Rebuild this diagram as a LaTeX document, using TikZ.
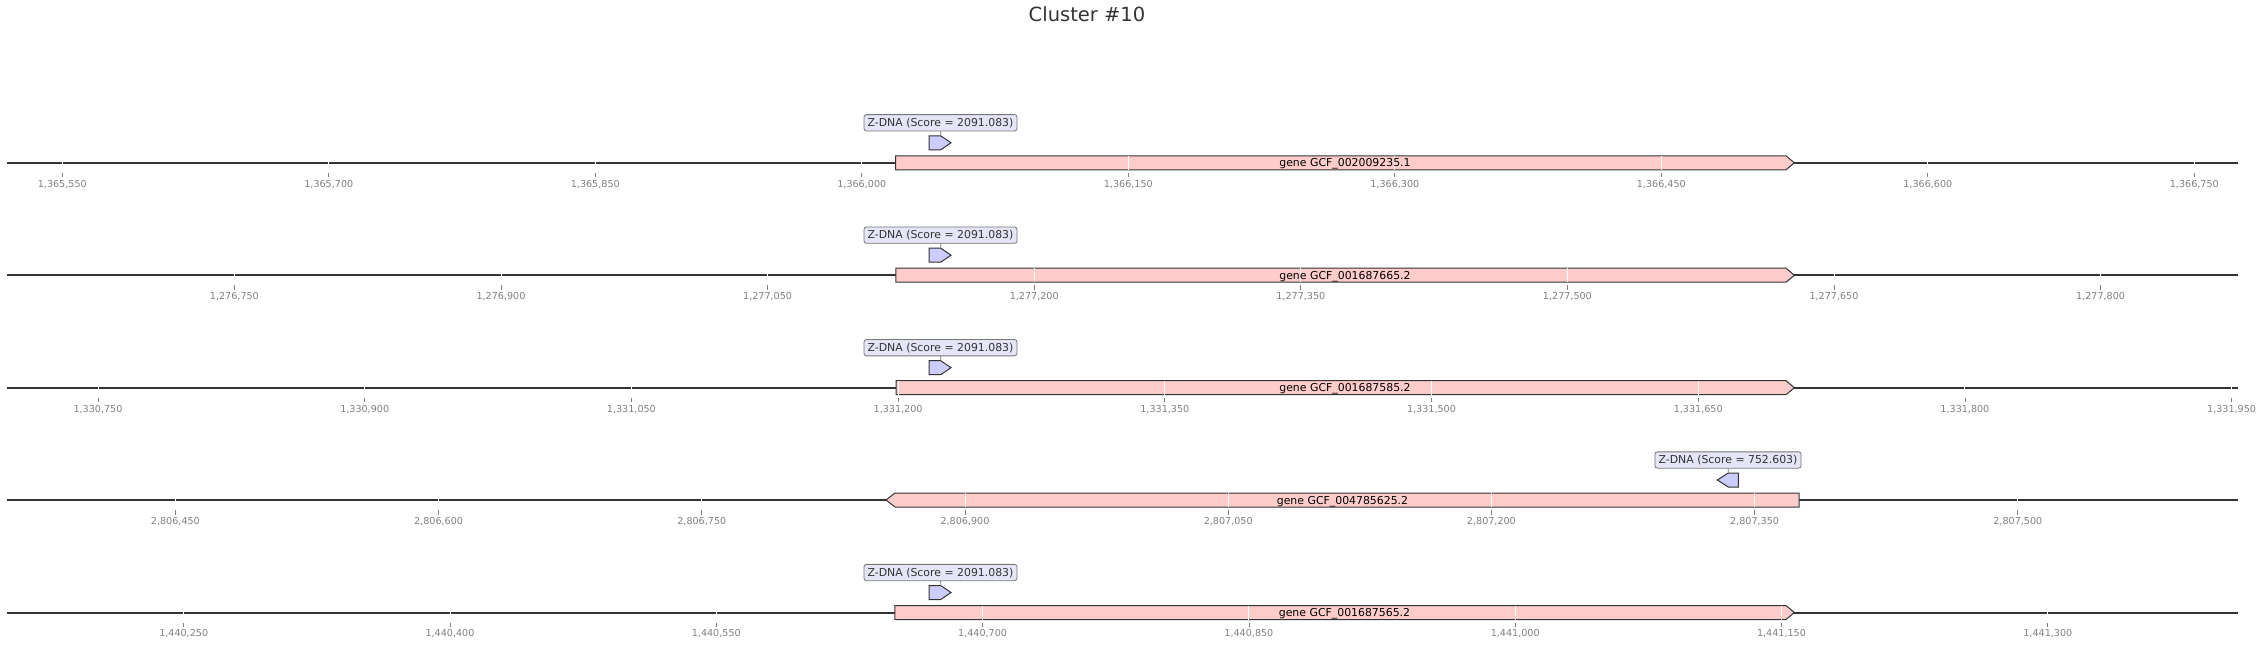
\documentclass[tikz,border=0pt]{standalone}
\usepackage{fontspec}
\setmainfont{DejaVu Sans}
\usepackage{xcolor}
\definecolor{trackGray}{RGB}{51, 51, 51}
\definecolor{tickGray}{RGB}{128, 128, 128}
\definecolor{genePink}{RGB}{255, 204, 204}
\definecolor{zdnaBlue}{RGB}{204, 204, 255}
\definecolor{labelLavender}{RGB}{229, 229, 248}
\definecolor{labelGray}{RGB}{120, 120, 120}

\begin{document}
\begin{tikzpicture}[x=1pt, y=-1pt]
            \tikzstyle{track} = [draw=trackGray, line width=2pt]
            \tikzstyle{gene} = [draw=trackGray, fill=genePink, line width=1pt]
            \tikzstyle{zdna} = [draw=trackGray, fill=zdnaBlue, line width=1pt]
            \tikzstyle{zlabel} = [draw=labelGray, fill=labelLavender, rounded corners=2.5pt, line width=0.8pt, inner xsep=3.6pt, inner ysep=0pt, minimum height=16.3pt, text height=7.9pt, text depth=0.5pt, text=trackGray, font=\fontsize{10.9}{12}\selectfont]
            \tikzstyle{genelabel} = [anchor=base, inner sep=0pt, text=black, font=\fontsize{10.9}{12}\selectfont]
            \tikzstyle{grid} = [white, line width=1pt]
            \tikzstyle{tick} = [tickGray, line width=0.8pt]
            \tikzstyle{ticklabel} = [anchor=base, inner sep=0pt, text=tickGray, font=\fontsize{9.6}{11}\selectfont]
            \tikzstyle{link} = [labelGray, line width=0.8pt]

            \useasboundingbox (0,0) rectangle (2263,647);
            \node[anchor=base, inner sep=0pt, text=trackGray, font=\fontsize{19.5}{23}\selectfont] (title) at (1087,22) {Cluster \#10};

            % row 1
            \draw[track] (7,162.8) -- (2238,162.8);
            \draw[gene] (895.7,155.8) -- (1786,155.8) -- (1794.3,162.8) -- (1786,169.8) -- (895.7,169.8) -- cycle;
            \foreach \x in {62.3,328.8,595.3,861.8,1128.3,1394.8,1661.3,1927.8,2194.3}
                \draw[grid] (\x,155.8) -- (\x,169.8);
            \foreach \x/\t in {62.3/{1,365,550}, 328.8/{1,365,700}, 595.3/{1,365,850}, 861.8/{1,366,000}, 1128.3/{1,366,150}, 1394.8/{1,366,300}, 1661.3/{1,366,450}, 1927.8/{1,366,600}, 2194.3/{1,366,750}} {
                \draw[tick] (\x,172.8) -- (\x,177.3);
                \node[ticklabel] at (\x,187.1) {\t};
            }
            \node[genelabel] (gene1) at (1345,166.8) {gene GCF\_002009235.1};
            \draw[zdna] (929,135.8) -- (940.7,135.8) -- (951,142.8) -- (940.7,149.8) -- (929,149.8) -- cycle;
            \coordinate (zdna1) at (940.7,135.8);
            \node[zlabel] (zlab1) at (940.5,122.8) {Z-DNA (Score = 2091.083)};
            \draw[link] (zlab1) -- (zdna1);

            % row 2
            \draw[track] (7,275.2) -- (2238,275.2);
            \draw[gene] (895.8,268.2) -- (1786,268.2) -- (1794.3,275.2) -- (1786,282.2) -- (895.8,282.2) -- cycle;
            \foreach \x in {234.4,501.0,767.6,1034.2,1300.8,1567.4,1834.0,2100.6}
                \draw[grid] (\x,268.2) -- (\x,282.2);
            \foreach \x/\t in {234.4/{1,276,750}, 501.0/{1,276,900}, 767.6/{1,277,050}, 1034.2/{1,277,200}, 1300.8/{1,277,350}, 1567.4/{1,277,500}, 1834.0/{1,277,650}, 2100.6/{1,277,800}} {
                \draw[tick] (\x,285.2) -- (\x,289.7);
                \node[ticklabel] at (\x,299.5) {\t};
            }
            \node[genelabel] (gene2) at (1345,279.2) {gene GCF\_001687665.2};
            \draw[zdna] (929,248.2) -- (940.7,248.2) -- (951,255.2) -- (940.7,262.2) -- (929,262.2) -- cycle;
            \coordinate (zdna2) at (940.7,248.2);
            \node[zlabel] (zlab2) at (940.5,235.2) {Z-DNA (Score = 2091.083)};
            \draw[link] (zlab2) -- (zdna2);

            % row 3
            \draw[track] (7,387.7) -- (2238,387.7);
            \draw[gene] (896,380.7) -- (1786,380.7) -- (1794.3,387.7) -- (1786,394.7) -- (896,394.7) -- cycle;
            \foreach \x in {98,364.7,631.4,898.1,1164.8,1431.5,1698.2,1964.9,2231.6}
                \draw[grid] (\x,380.7) -- (\x,394.7);
            \foreach \x/\t in {98/{1,330,750}, 364.7/{1,330,900}, 631.4/{1,331,050}, 898.1/{1,331,200}, 1164.8/{1,331,350}, 1431.5/{1,331,500}, 1698.2/{1,331,650}, 1964.9/{1,331,800}, 2231.6/{1,331,950}} {
                \draw[tick] (\x,397.7) -- (\x,402.2);
                \node[ticklabel] at (\x,412) {\t};
            }
            \node[genelabel] (gene3) at (1345,391.7) {gene GCF\_001687585.2};
            \draw[zdna] (929,360.7) -- (940.7,360.7) -- (951,367.7) -- (940.7,374.7) -- (929,374.7) -- cycle;
            \coordinate (zdna3) at (940.7,360.7);
            \node[zlabel] (zlab3) at (940.5,347.7) {Z-DNA (Score = 2091.083)};
            \draw[link] (zlab3) -- (zdna3);

            % row 4
            \draw[track] (7,500) -- (2238,500);
            \draw[gene] (886,500) -- (895,493) -- (1799,493) -- (1799,507) -- (895,507) -- cycle;
            \foreach \x in {175.4,438.6,701.8,965,1228.2,1491.4,1754.6,2017.8}
                \draw[grid] (\x,493) -- (\x,507);
            \foreach \x/\t in {175.4/{2,806,450}, 438.6/{2,806,600}, 701.8/{2,806,750}, 965/{2,806,900}, 1228.2/{2,807,050}, 1491.4/{2,807,200}, 1754.6/{2,807,350}, 2017.8/{2,807,500}} {
                \draw[tick] (\x,510) -- (\x,514.5);
                \node[ticklabel] at (\x,524.3) {\t};
            }
            \node[genelabel] (gene4) at (1342.5,504) {gene GCF\_004785625.2};
            \draw[zdna] (1738.3,473) -- (1728.3,473) -- (1717.3,480) -- (1728.3,487) -- (1738.3,487) -- cycle;
            \coordinate (zdna4) at (1728.3,473);
            \node[zlabel] (zlab4) at (1728,460) {Z-DNA (Score = 752.603)};
            \draw[link] (zlab4) -- (zdna4);

            % row 5
            \draw[track] (7,612.5) -- (2238,612.5);
            \draw[gene] (894.8,605.5) -- (1786,605.5) -- (1794.3,612.5) -- (1786,619.5) -- (894.8,619.5) -- cycle;
            \foreach \x in {183.7,450,716.3,982.6,1248.9,1515.2,1781.5,2047.8}
                \draw[grid] (\x,605.5) -- (\x,619.5);
            \foreach \x/\t in {183.7/{1,440,250}, 450/{1,440,400}, 716.3/{1,440,550}, 982.6/{1,440,700}, 1248.9/{1,440,850}, 1515.2/{1,441,000}, 1781.5/{1,441,150}, 2047.8/{1,441,300}} {
                \draw[tick] (\x,622.5) -- (\x,627);
                \node[ticklabel] at (\x,636.8) {\t};
            }
            \node[genelabel] (gene5) at (1344.5,616.5) {gene GCF\_001687565.2};
            \draw[zdna] (929,585.5) -- (940.7,585.5) -- (951,592.5) -- (940.7,599.5) -- (929,599.5) -- cycle;
            \coordinate (zdna5) at (940.7,585.5);
            \node[zlabel] (zlab5) at (940.5,572.5) {Z-DNA (Score = 2091.083)};
            \draw[link] (zlab5) -- (zdna5);
        \end{tikzpicture}
\end{document}
